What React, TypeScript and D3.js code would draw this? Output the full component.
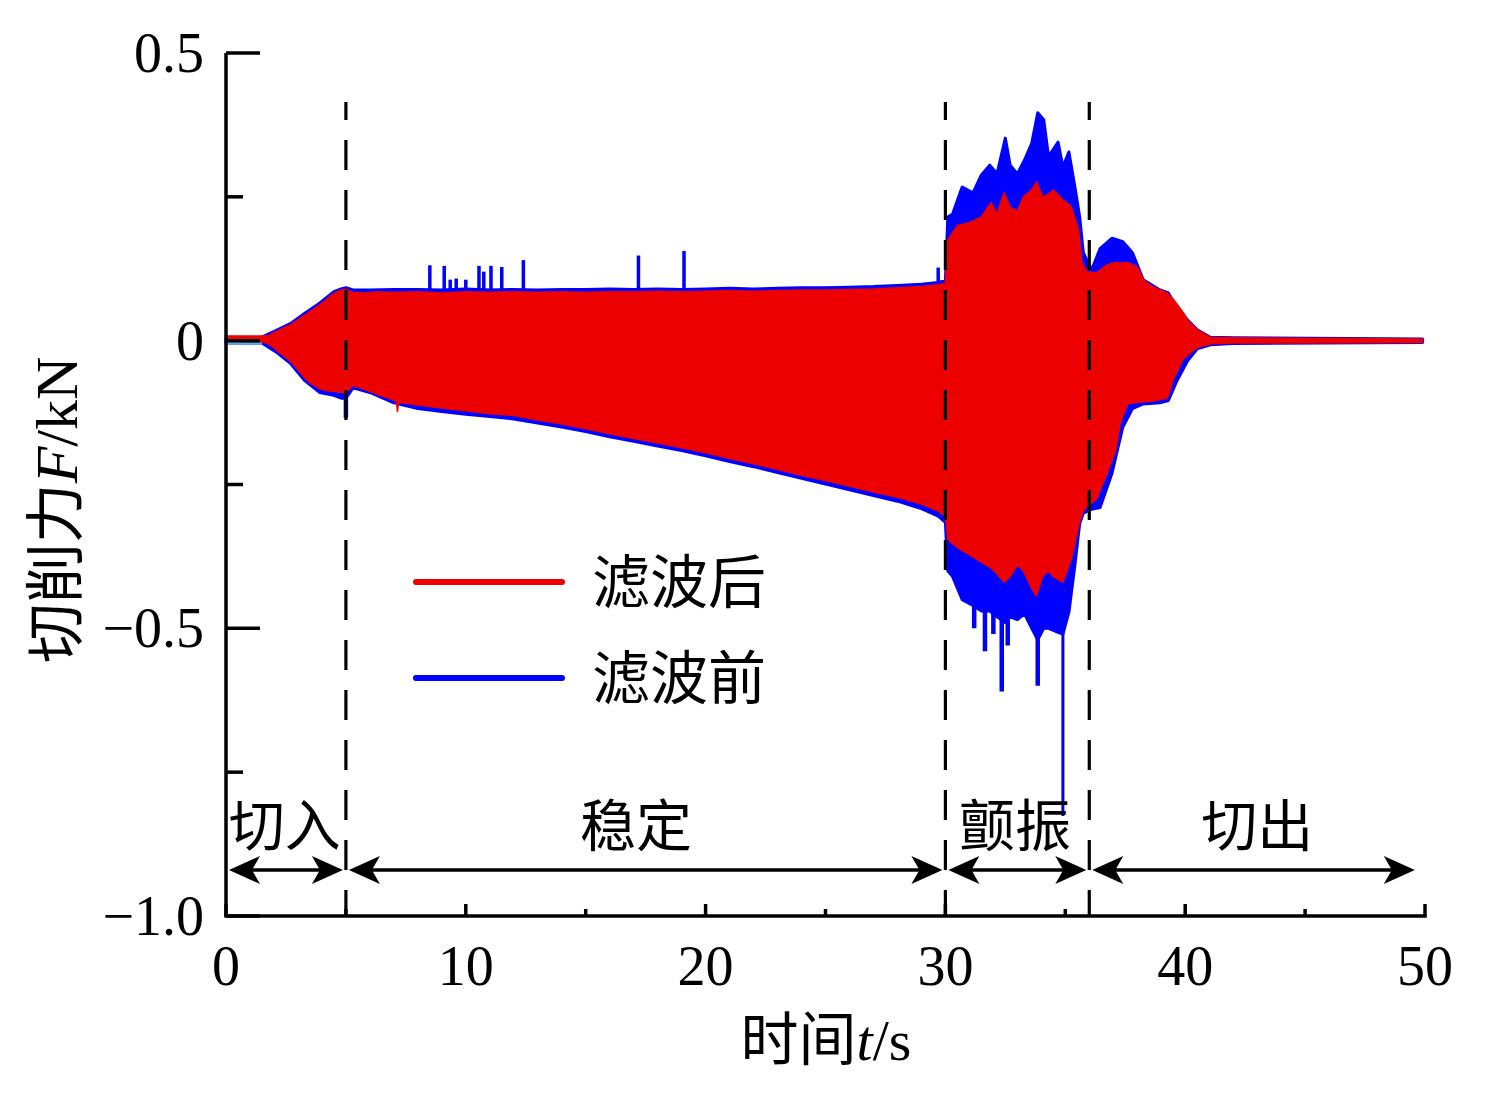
import { useEffect, useRef } from 'react';
import * as d3 from 'd3';

// envelope of the filtered signal (kN)
const redT = [0, 1.5, 1.8, 2.1, 2.4, 2.7, 3.0, 3.3, 3.6, 3.9, 4.2, 4.5, 4.8, 5.0, 5.3, 5.8, 6.3, 6.8, 7.1, 7.15, 7.2, 8, 9, 10, 11, 12, 13, 14, 15, 16, 17, 18, 19, 20, 21, 22, 23, 24, 25, 26, 27, 28, 29, 29.7, 30.0, 30.1, 30.5, 31, 31.5, 31.9, 32.15, 32.45, 32.7, 33.0, 33.25, 33.6, 33.8, 34.05, 34.3, 34.5, 34.9, 35.25, 35.55, 35.7, 35.9, 36.3, 36.75, 37.1, 37.3, 37.6, 38.0, 38.3, 38.65, 39.25, 39.5, 39.9, 40.1, 40.5, 41.05, 42, 45, 49.9];
const redHi = [0.008, 0.008, 0.009, 0.016, 0.022, 0.028, 0.036, 0.045, 0.053, 0.062, 0.072, 0.082, 0.088, 0.089, 0.084, 0.083, 0.085, 0.084, 0.084, 0.084, 0.084, 0.085, 0.083, 0.085, 0.084, 0.085, 0.084, 0.085, 0.084, 0.085, 0.085, 0.086, 0.085, 0.086, 0.087, 0.086, 0.087, 0.088, 0.088, 0.089, 0.09, 0.092, 0.094, 0.097, 0.1, 0.175, 0.2, 0.205, 0.215, 0.24, 0.22, 0.257, 0.232, 0.225, 0.25, 0.262, 0.276, 0.25, 0.255, 0.262, 0.245, 0.233, 0.193, 0.135, 0.12, 0.118, 0.132, 0.136, 0.135, 0.136, 0.128, 0.104, 0.094, 0.083, 0.072, 0.05, 0.036, 0.019, 0.006, 0.005, 0.004, 0.003];
const redLo = [-0.001, -0.002, -0.006, -0.016, -0.026, -0.036, -0.05, -0.066, -0.076, -0.083, -0.087, -0.088, -0.09, -0.09, -0.078, -0.085, -0.093, -0.1, -0.105, -0.123, -0.107, -0.112, -0.117, -0.122, -0.127, -0.13, -0.138, -0.145, -0.153, -0.162, -0.17, -0.178, -0.186, -0.195, -0.205, -0.214, -0.224, -0.234, -0.243, -0.253, -0.263, -0.272, -0.284, -0.296, -0.305, -0.345, -0.36, -0.372, -0.385, -0.395, -0.405, -0.42, -0.41, -0.39, -0.4, -0.43, -0.444, -0.41, -0.4, -0.41, -0.42, -0.38, -0.323, -0.3, -0.288, -0.276, -0.23, -0.19, -0.142, -0.11, -0.107, -0.106, -0.105, -0.1, -0.068, -0.033, -0.025, -0.012, -0.006, -0.004, -0.004, -0.003];

// envelope of the raw signal (kN)
const blueT = [0, 1.5, 2.1, 2.7, 3.3, 3.9, 4.5, 4.8, 5.0, 5.3, 6, 7, 8, 9, 10, 11, 12, 13, 14, 15, 16, 17, 18, 19, 20, 21, 22, 23, 24, 25, 26, 27, 28, 29, 29.7, 30.0, 30.1, 30.3, 30.7, 31.15, 31.5, 31.85, 32.15, 32.5, 32.7, 33.0, 33.3, 33.6, 33.85, 34.1, 34.3, 34.7, 34.9, 35.15, 35.4, 35.6, 35.75, 36.1, 36.45, 36.95, 37.4, 37.8, 38.25, 38.95, 39.3, 39.65, 40.1, 40.5, 41.05, 42, 49.9];
const blueHi = [0.004, 0.006, 0.018, 0.03, 0.048, 0.065, 0.085, 0.09, 0.092, 0.088, 0.088, 0.089, 0.089, 0.088, 0.09, 0.088, 0.089, 0.088, 0.089, 0.089, 0.09, 0.089, 0.09, 0.089, 0.09, 0.091, 0.09, 0.091, 0.092, 0.092, 0.093, 0.094, 0.096, 0.098, 0.101, 0.104, 0.215, 0.22, 0.267, 0.257, 0.288, 0.305, 0.29, 0.352, 0.305, 0.29, 0.314, 0.343, 0.396, 0.384, 0.32, 0.345, 0.302, 0.328, 0.267, 0.215, 0.153, 0.123, 0.16, 0.178, 0.172, 0.153, 0.106, 0.088, 0.083, 0.057, 0.036, 0.019, 0.006, 0.005, 0.003];
const blueLo = [-0.004, -0.004, -0.02, -0.04, -0.07, -0.09, -0.095, -0.1, -0.1, -0.082, -0.09, -0.108, -0.118, -0.123, -0.128, -0.132, -0.136, -0.143, -0.15, -0.158, -0.167, -0.175, -0.183, -0.191, -0.2, -0.21, -0.219, -0.229, -0.239, -0.249, -0.259, -0.269, -0.279, -0.292, -0.305, -0.316, -0.4, -0.41, -0.45, -0.46, -0.47, -0.47, -0.48, -0.49, -0.48, -0.485, -0.475, -0.5, -0.52, -0.5, -0.5, -0.507, -0.51, -0.472, -0.39, -0.318, -0.3, -0.293, -0.29, -0.23, -0.15, -0.118, -0.11, -0.108, -0.104, -0.07, -0.035, -0.014, -0.007, -0.005, -0.003];

// isolated spikes of the raw signal
const spikeUpT = [8.5, 9.1, 9.35, 9.6, 10.0, 10.55, 10.75, 11.05, 11.5, 12.4, 17.2, 19.1, 29.7];
const spikeUpV = [0.131, 0.13, 0.106, 0.108, 0.106, 0.13, 0.12, 0.13, 0.128, 0.14, 0.148, 0.156, 0.127];
const spikeDownT = [5.0, 31.2, 31.65, 32.0, 32.35, 32.6, 33.85, 34.9, 37.65];
const spikeDownV = [-0.134, -0.5, -0.54, -0.51, -0.61, -0.53, -0.6, -0.826, -0.125];

// constant offset trace before the tool engages
const offsetT = [0, 1.5];
const offsetV = [-0.004, -0.004];

const dividerT = [5, 30, 36];
const phaseBounds = [0, 5, 30, 36, 49.7];
const phaseLabels = ['切入', '稳定', '颤振', '切出'];
const phaseLabelT = [2.45, 17.1, 32.9, 43.0];

const xMajor = [0, 10, 20, 30, 40, 50];
const xMinor = [5, 15, 25, 35, 45];
const yMajor = [0.5, 0, -0.5, -1.0];
const yMinor = [0.25, -0.25, -0.75];
const yTickText = ['0.5', '0', '−0.5', '−1.0'];

const legendNames = ['滤波后', '滤波前'];
const legendColors = ['#ec0000', '#0000ff'];

const RED = '#ec0000';
const BLUE = '#0000ff';
const LATIN = '"Liberation Serif", "Times New Roman", serif';
const MIXED = '"Liberation Serif", "Noto Sans CJK SC", serif';

export default function App() {
  const svgRef = useRef<SVGSVGElement | null>(null);

  useEffect(() => {
    if (!svgRef.current) return;
    const width = 1490;
    const height = 1105;

    const svg = d3.select(svgRef.current).attr('width', width).attr('height', height);
    svg.selectAll('*').remove();

    const x = d3.scaleLinear().domain([0, 50]).range([226, 1425]);
    const y = d3.scaleLinear().domain([-1, 0.5]).range([916, 53]);

    const band = (t: number[], hi: number[], lo: number[]) =>
      d3
        .area<number>()
        .x((i) => x(t[i]))
        .y0((i) => y(lo[i]))
        .y1((i) => y(hi[i]))(d3.range(t.length));

    // raw signal
    svg
      .append('path')
      .attr('d', band(blueT, blueHi, blueLo))
      .attr('fill', BLUE)
      .attr('stroke', BLUE)
      .attr('stroke-width', 3)
      .attr('stroke-linejoin', 'round');

    svg
      .append('g')
      .selectAll('line')
      .data(d3.range(spikeUpT.length))
      .join('line')
      .attr('x1', (i) => x(spikeUpT[i]))
      .attr('x2', (i) => x(spikeUpT[i]))
      .attr('y1', y(0))
      .attr('y2', (i) => y(spikeUpV[i]))
      .attr('stroke', BLUE)
      .attr('stroke-width', 3.5);

    svg
      .append('g')
      .selectAll('line')
      .data(d3.range(spikeDownT.length))
      .join('line')
      .attr('x1', (i) => x(spikeDownT[i]))
      .attr('x2', (i) => x(spikeDownT[i]))
      .attr('y1', y(0))
      .attr('y2', (i) => y(spikeDownV[i]))
      .attr('stroke', BLUE)
      .attr('stroke-width', (i) => (spikeDownV[i] < -0.7 ? 3 : 4.5));

    svg
      .append('path')
      .attr(
        'd',
        d3
          .line<number>()
          .x((i) => x(offsetT[i]))
          .y((i) => y(offsetV[i]))(d3.range(offsetT.length)),
      )
      .attr('stroke', '#4fb4e6')
      .attr('stroke-width', 3)
      .attr('fill', 'none');

    // filtered signal
    svg
      .append('path')
      .attr('d', band(redT, redHi, redLo))
      .attr('fill', RED)
      .attr('stroke', RED)
      .attr('stroke-width', 1.5)
      .attr('stroke-linejoin', 'round');

    // phase dividers
    svg
      .append('g')
      .selectAll('line')
      .data(dividerT)
      .join('line')
      .attr('x1', (d) => x(d))
      .attr('x2', (d) => x(d))
      .attr('y1', y(0.415))
      .attr('y2', y(-1))
      .attr('stroke', '#000')
      .attr('stroke-width', 3.2)
      .attr('stroke-dasharray', '30 20')
      .attr('stroke-dashoffset', 12);

    // axes
    const axis = svg.append('g').attr('stroke', '#000').attr('stroke-width', 3.5);
    axis.append('line').attr('x1', x(0)).attr('x2', x(0)).attr('y1', y(0.5)).attr('y2', y(-1));
    axis.append('line').attr('x1', x(0) - 1.75).attr('x2', x(50) + 1.75).attr('y1', y(-1)).attr('y2', y(-1));
    axis
      .selectAll('line.ym')
      .data(yMajor)
      .join('line')
      .attr('class', 'ym')
      .attr('x1', x(0))
      .attr('x2', x(0) + 34)
      .attr('y1', (d) => y(d))
      .attr('y2', (d) => y(d));
    axis
      .selectAll('line.yn')
      .data(yMinor)
      .join('line')
      .attr('class', 'yn')
      .attr('x1', x(0))
      .attr('x2', x(0) + 17)
      .attr('y1', (d) => y(d))
      .attr('y2', (d) => y(d));
    axis
      .selectAll('line.xm')
      .data(xMajor)
      .join('line')
      .attr('class', 'xm')
      .attr('x1', (d) => x(d))
      .attr('x2', (d) => x(d))
      .attr('y1', y(-1))
      .attr('y2', y(-1) - 12);
    axis
      .selectAll('line.xn')
      .data(xMinor)
      .join('line')
      .attr('class', 'xn')
      .attr('x1', (d) => x(d))
      .attr('x2', (d) => x(d))
      .attr('y1', y(-1))
      .attr('y2', y(-1) - 7);

    svg
      .append('g')
      .selectAll('text')
      .data(yMajor)
      .join('text')
      .attr('x', 204)
      .attr('y', (d) => y(d) + 19)
      .attr('text-anchor', 'end')
      .attr('font-family', LATIN)
      .attr('font-size', 56)
      .text((_, i) => yTickText[i]);

    svg
      .append('g')
      .selectAll('text')
      .data(xMajor)
      .join('text')
      .attr('x', (d) => x(d))
      .attr('y', 985)
      .attr('text-anchor', 'middle')
      .attr('font-family', LATIN)
      .attr('font-size', 56)
      .text((d) => String(d));

    // axis titles
    const xt = svg
      .append('text')
      .attr('x', 826)
      .attr('y', 1060)
      .attr('text-anchor', 'middle')
      .attr('font-family', MIXED)
      .attr('font-size', 58);
    xt.append('tspan').text('时间');
    xt.append('tspan').attr('font-style', 'italic').text('t');
    xt.append('tspan').text('/s');

    const yt = svg
      .append('text')
      .attr('transform', 'translate(77,510) rotate(-90)')
      .attr('text-anchor', 'middle')
      .attr('font-family', MIXED)
      .attr('font-size', 60);
    yt.append('tspan').text('切削力');
    yt.append('tspan').attr('font-style', 'italic').text('F');
    yt.append('tspan').text('/kN');

    // phase arrows
    const arrowY = y(-0.92);
    const arrows = svg.append('g');
    const head = (tx: number, dir: number) =>
      `M${tx},${arrowY}L${tx - dir * 31},${arrowY - 14}L${tx - dir * 23},${arrowY}L${tx - dir * 31},${arrowY + 14}Z`;
    d3.range(phaseLabels.length).forEach((i) => {
      const a = x(phaseBounds[i]) + 3;
      const b = x(phaseBounds[i + 1]) - 3;
      arrows
        .append('line')
        .attr('x1', a + 10)
        .attr('x2', b - 10)
        .attr('y1', arrowY)
        .attr('y2', arrowY)
        .attr('stroke', '#000')
        .attr('stroke-width', 3.5);
      arrows.append('path').attr('d', head(a, -1)).attr('fill', '#000');
      arrows.append('path').attr('d', head(b, 1)).attr('fill', '#000');
      arrows
        .append('text')
        .attr('x', x(phaseLabelT[i]))
        .attr('y', 846)
        .attr('text-anchor', 'middle')
        .attr('font-family', MIXED)
        .attr('font-size', 56)
        .text(phaseLabels[i]);
    });

    // legend
    const legend = svg.append('g');
    legendNames.forEach((name, i) => {
      const ly = 582 + i * 96;
      legend
        .append('line')
        .attr('x1', 416)
        .attr('x2', 562)
        .attr('y1', ly)
        .attr('y2', ly)
        .attr('stroke', legendColors[i])
        .attr('stroke-width', 6)
        .attr('stroke-linecap', 'round');
      legend
        .append('text')
        .attr('x', 592)
        .attr('y', ly + 21)
        .attr('font-family', MIXED)
        .attr('font-size', 58)
        .text(name);
    });
  }, []);

  return (
    <svg
      ref={svgRef}
      style={{ position: 'absolute', left: 0, top: 0, background: '#fff' }}
    />
  );
}
